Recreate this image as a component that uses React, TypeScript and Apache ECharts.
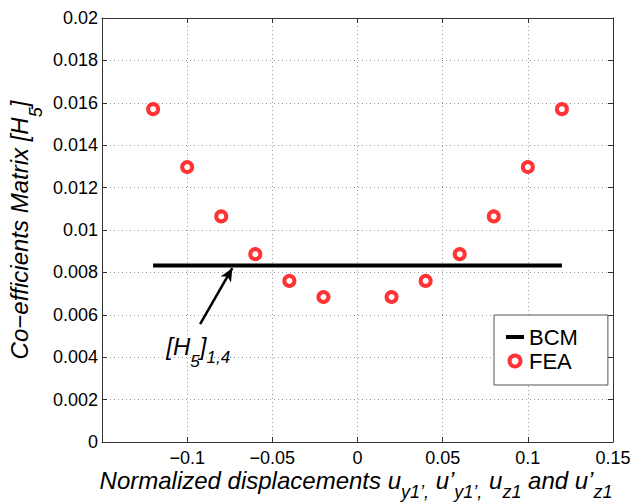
import React, { useEffect, useRef } from "react";
import * as echarts from "echarts";

const FONT = "'Liberation Sans', Arial, Helvetica, sans-serif";

// Data
const feaX = [-0.12, -0.1, -0.08, -0.06, -0.04, -0.02, 0.02, 0.04, 0.06, 0.08, 0.1, 0.12];
const feaY = [0.0157, 0.01297, 0.01064, 0.00886, 0.0076, 0.00684, 0.00684, 0.0076, 0.00886, 0.01064, 0.01297, 0.0157];
const bcmX = [-0.12, 0.12];
const bcmY = [0.00833, 0.00833];
const seriesNames = ["BCM", "FEA"];

// Annotation (data coordinates)
const arrowFrom = [-0.0924, 0.00556];
const arrowTo = [-0.0735, 0.0082];
const annotationAt = [-0.0935, 0.00423];

const xMin = -0.15, xMax = 0.15, xStep = 0.05;
const yMin = 0, yMax = 0.02, yStep = 0.002;

const fmtX = (v: number) => {
  if (v <= -0.149) return "";
  const r = Math.round(v * 1000) / 1000;
  return String(r).replace("-", "\u2212");
};
const fmtY = (v: number) => String(Math.round(v * 10000) / 10000);

const axisLineStyle = { color: "#333", width: 1 };

export default function App() {
  const ref = useRef<HTMLDivElement>(null);
  useEffect(() => {
    if (!ref.current) return;
    const chart = echarts.init(ref.current, undefined, { renderer: "svg" });
    const mainTok = { fontSize: 24, fontStyle: "italic", fontFamily: FONT, color: "#000", lineHeight: 28, verticalAlign: "top" };
    const mainTight = { ...mainTok, lineHeight: 16 };
    const subTok = (size: number, pad: number) => ({
      fontSize: size, fontStyle: "italic", fontFamily: FONT, color: "#000", padding: [pad, 0, 0, 0], verticalAlign: "top",
    });
    const option: any = {
      animation: false,
      backgroundColor: "#fff",
      grid: { left: 102, right: 21, top: 18, bottom: 60, containLabel: false },
      xAxis: [
        {
          type: "value", min: xMin, max: xMax, interval: xStep, position: "bottom",
          axisLine: { show: true, onZero: false, lineStyle: axisLineStyle },
          axisTick: { show: true, inside: true, length: 5, lineStyle: axisLineStyle },
          axisLabel: { margin: 7, fontSize: 18, color: "#000", fontFamily: FONT, formatter: fmtX },
          splitLine: { show: true, lineStyle: { type: [1, 3], color: "#999", width: 1 } },
        },
        {
          type: "value", min: xMin, max: xMax, interval: xStep, position: "top",
          axisLine: { show: true, onZero: false, lineStyle: axisLineStyle },
          axisTick: { show: true, inside: true, length: 5, lineStyle: axisLineStyle },
          axisLabel: { show: false },
          splitLine: { show: false },
        },
      ],
      yAxis: [
        {
          type: "value", min: yMin, max: yMax, interval: yStep, position: "left",
          axisLine: { show: true, onZero: false, lineStyle: axisLineStyle },
          axisTick: { show: true, inside: true, length: 5, lineStyle: axisLineStyle },
          axisLabel: { margin: 4, fontSize: 18, color: "#000", fontFamily: FONT, formatter: fmtY },
          splitLine: { show: true, lineStyle: { type: [1, 3], color: "#999", width: 1 } },
        },
        {
          type: "value", min: yMin, max: yMax, interval: yStep, position: "right",
          axisLine: { show: true, onZero: false, lineStyle: axisLineStyle },
          axisTick: { show: true, inside: true, length: 5, lineStyle: axisLineStyle },
          axisLabel: { show: false },
          splitLine: { show: false },
        },
      ],
      legend: {
        orient: "vertical", left: 494, top: 315,
        padding: [10, 30, 12, 10], itemGap: 0, itemWidth: 18, itemHeight: 11,
        backgroundColor: "#fff", borderColor: "#555", borderWidth: 1, borderRadius: 0,
        textStyle: { fontSize: 22, color: "#000", fontFamily: FONT, lineHeight: 14, padding: [0, 0, 10, 0] },
        data: [
          { name: seriesNames[0], itemStyle: { opacity: 0 }, lineStyle: { width: 4, color: "#000" } },
          { name: seriesNames[1], itemStyle: { borderWidth: 4, color: "#fff", borderColor: "#ff0000" } },
        ],
      },
      series: [
        {
          name: seriesNames[0], type: "line", xAxisIndex: 0, yAxisIndex: 0,
          data: bcmX.map((x, i) => [x, bcmY[i]]),
          symbol: "none", showSymbol: false,
          lineStyle: { color: "#000", width: 4 }, itemStyle: { color: "#000" }, z: 3,
          markLine: {
            silent: true, animation: false,
            symbol: ["none", "arrow"], symbolSize: [9, 13],
            label: { show: false },
            lineStyle: { color: "#000", width: 2.5, type: "solid" },
            data: [[{ coord: arrowFrom }, { coord: arrowTo }]],
          },
          markPoint: {
            silent: true, animation: false,
            symbol: "circle", symbolSize: 0,
            data: [{ coord: annotationAt }],
            label: {
              show: true, position: "inside", formatter: "{m|[H}{a|5}{m|]}{b|1,4}",
              rich: { m: mainTok, a: subTok(17, 19), b: subTok(17, 15) },
            },
          },
        },
        {
          name: seriesNames[1], type: "scatter", xAxisIndex: 0, yAxisIndex: 0,
          data: feaX.map((x, i) => [x, feaY[i]]),
          symbol: "circle", symbolSize: 10,
          itemStyle: { color: "#fff", borderColor: "#ff0000", borderWidth: 4 }, z: 4,
        },
      ],
      graphic: [
        {
          type: "text", x: 356, y: 484.5, silent: true,
          style: {
            text: "{m|Normalized displacements u}{s|y1\u2019,}{m| u\u2019}{s|y1\u2019,}{m| u}{s|z1}{m| and u\u2019}{s|z1}",
            align: "center", verticalAlign: "middle",
            rich: { m: mainTight, s: subTok(18, 14) },
          },
        },
        {
          type: "text", x: 26, y: 230, rotation: Math.PI / 2, silent: true,
          style: {
            text: "{m|Co\u2212efficients Matrix [H}{s|5}{m|]}",
            align: "center", verticalAlign: "middle",
            rich: { m: mainTok, s: subTok(18, 20) },
          },
        },
      ],
    };
    chart.setOption(option);
    return () => chart.dispose();
  }, []);
  return (
    <div
      ref={ref}
      style={{ position: "fixed", left: 0, top: 0, width: 634, height: 502, background: "#fff" }}
    />
  );
}
